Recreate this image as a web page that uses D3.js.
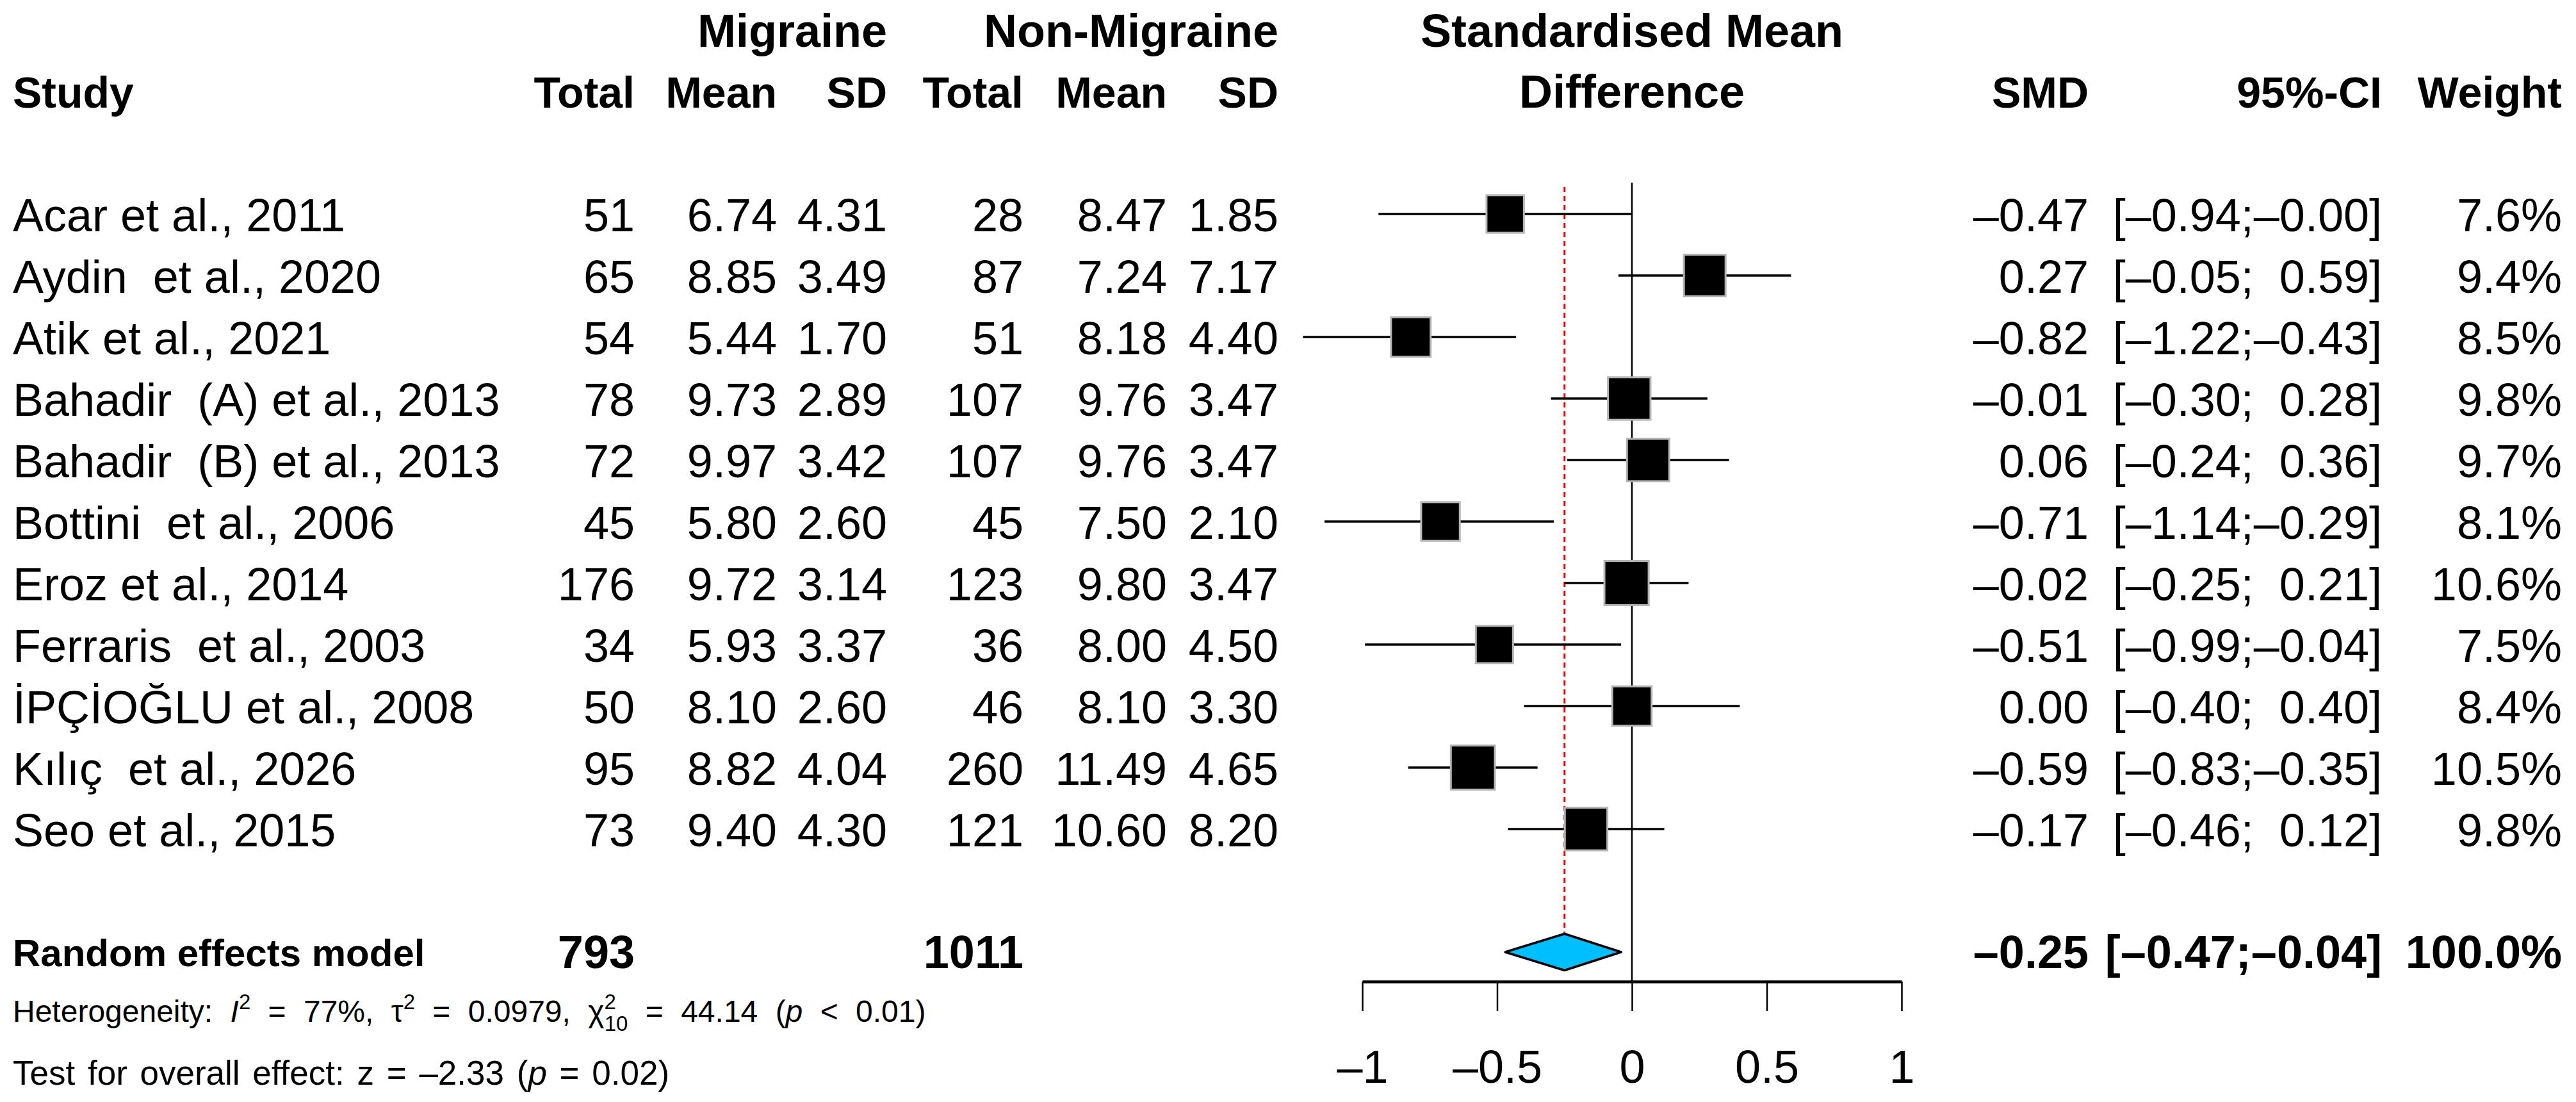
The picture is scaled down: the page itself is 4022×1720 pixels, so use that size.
<!DOCTYPE html>
<html>
<head>
<meta charset="utf-8">
<script src="https://cdn.jsdelivr.net/npm/d3@7"></script>
<style>
  body { margin: 0; background: #fff; }
  text { font-family: "Liberation Sans", Arial, sans-serif; white-space: pre; fill: #000; }
</style>
</head>
<body>
<div id="wrapper"></div>
<script>
// study rows
const studies = ["Acar et al., 2011", "Aydin  et al., 2020", "Atik et al., 2021",
  "Bahadir  (A) et al., 2013", "Bahadir  (B) et al., 2013", "Bottini  et al., 2006",
  "Eroz et al., 2014", "Ferraris  et al., 2003", "İPÇİOĞLU et al., 2008",
  "Kılıç  et al., 2026", "Seo et al., 2015"]
const migTotal = [51, 65, 54, 78, 72, 45, 176, 34, 50, 95, 73]
const migMean = [6.74, 8.85, 5.44, 9.73, 9.97, 5.80, 9.72, 5.93, 8.10, 8.82, 9.40]
const migSD = [4.31, 3.49, 1.70, 2.89, 3.42, 2.60, 3.14, 3.37, 2.60, 4.04, 4.30]
const nonTotal = [28, 87, 51, 107, 107, 45, 123, 36, 46, 260, 121]
const nonMean = [8.47, 7.24, 8.18, 9.76, 9.76, 7.50, 9.80, 8.00, 8.10, 11.49, 10.60]
const nonSD = [1.85, 7.17, 4.40, 3.47, 3.47, 2.10, 3.47, 4.50, 3.30, 4.65, 8.20]
const smd = [-0.47, 0.27, -0.82, -0.01, 0.06, -0.71, -0.02, -0.51, 0.00, -0.59, -0.17]
const ciLower = [-0.94, -0.05, -1.22, -0.30, -0.24, -1.14, -0.25, -0.99, -0.40, -0.83, -0.46]
const ciUpper = [-0.00, 0.59, -0.43, 0.28, 0.36, -0.29, 0.21, -0.04, 0.40, -0.35, 0.12]
const weights = [7.6, 9.4, 8.5, 9.8, 9.7, 8.1, 10.6, 7.5, 8.4, 10.5, 9.8]

// pooled (random effects)
const pooledTotals = [793, 1011]
const pooled = { est: -0.25, lower: -0.47, upper: -0.04, weight: 100.0 }

const tickValues = [-1, -0.5, 0, 0.5, 1]

const width = 4022, height = 1720

// en dash for minus, like the R output
const neg = v => v < 0 || Object.is(v, -0)
const f2 = v => (neg(v) ? "\u2013" : "") + Math.abs(v).toFixed(2)
const ci = (lo, hi) => "[" + (neg(lo) ? f2(lo) : "  " + f2(lo)) + ";" + (neg(hi) ? f2(hi) : "  " + f2(hi)) + "]"
const pct = v => v.toFixed(1) + "%"
const tickFmt = v => (v < 0 ? "\u2013" : "") + Math.abs(v)

const svg = d3.select("#wrapper").append("svg")
  .attr("width", width)
  .attr("height", height)

const xScale = d3.scaleLinear().domain([-1, 1]).range([2127, 2969])
const yScale = d3.scalePoint().domain(studies).range([334, 1294])
const boxSize = d3.scaleSqrt().domain([0, 10.6]).range([0, 69])
const yPooled = 1486
const axisY = 1532

// columns (right edges)
const col = { mT: 991, mM: 1213, mS: 1385, nT: 1598, nM: 1822, nS: 1996, smd: 3261, ci: 3719, w: 4000 }

// headers
const hdr = svg.append("g").attr("font-weight", "bold").attr("font-size", 68)
hdr.append("text").attr("x", col.mS).attr("y", 73).attr("font-size", 72).attr("text-anchor", "end").text("Migraine")
hdr.append("text").attr("x", col.nS).attr("y", 73).attr("font-size", 72).attr("text-anchor", "end").text("Non-Migraine")
hdr.append("text").attr("x", xScale(0)).attr("y", 73).attr("font-size", 72).attr("text-anchor", "middle").text("Standardised Mean")
hdr.append("text").attr("x", xScale(0)).attr("y", 168).attr("font-size", 72).attr("text-anchor", "middle").text("Difference")
hdr.append("text").attr("x", 20).attr("y", 168).text("Study")
const hdr2 = [["Total", col.mT], ["Mean", col.mM], ["SD", col.mS], ["Total", col.nT], ["Mean", col.nM], ["SD", col.nS],
  ["SMD", col.smd], ["95%-CI", col.ci], ["Weight", col.w]]
hdr.selectAll(".h2").data(hdr2).join("text")
  .attr("x", d => d[1]).attr("y", 168).attr("text-anchor", "end").text(d => d[0])

// study table
const rows = svg.append("g").attr("font-size", 72)
const cols = [
  [col.mT, i => migTotal[i]], [col.mM, i => migMean[i].toFixed(2)], [col.mS, i => migSD[i].toFixed(2)],
  [col.nT, i => nonTotal[i]], [col.nM, i => nonMean[i].toFixed(2)], [col.nS, i => nonSD[i].toFixed(2)],
  [col.smd, i => f2(smd[i])], [col.ci, i => ci(ciLower[i], ciUpper[i])], [col.w, i => pct(weights[i])]
]
studies.forEach((s, i) => {
  const y = yScale(s) + 27
  rows.append("text").attr("x", 20).attr("y", y).text(s)
  cols.forEach(c => {
    rows.append("text").attr("x", c[0]).attr("y", y).attr("text-anchor", "end").text(c[1](i))
  })
})

// zero line
svg.append("line")
  .attr("x1", xScale(0)).attr("x2", xScale(0))
  .attr("y1", 285).attr("y2", axisY)
  .attr("stroke", "#000").attr("stroke-width", 2.5)

// pooled estimate line
svg.append("line")
  .attr("x1", xScale(pooled.est)).attr("x2", xScale(pooled.est))
  .attr("y1", 292).attr("y2", yPooled - 29)
  .attr("stroke", "red").attr("stroke-width", 3).attr("stroke-dasharray", "8,6")

// CI whiskers + boxes
const marks = svg.append("g")
studies.forEach((s, i) => {
  const y = yScale(s)
  marks.append("line")
    .attr("x1", xScale(ciLower[i])).attr("x2", xScale(ciUpper[i]))
    .attr("y1", y).attr("y2", y)
    .attr("stroke", "#000").attr("stroke-width", 3.5)
  const b = boxSize(weights[i])
  marks.append("rect")
    .attr("x", xScale(smd[i]) - b / 2).attr("y", y - b / 2)
    .attr("width", b).attr("height", b)
    .attr("fill", "#000").attr("stroke", "#b4b4b4").attr("stroke-width", 3)
})

// diamond
const dh = 28.5
svg.append("path")
  .attr("d", `M${xScale(pooled.lower)},${yPooled}L${xScale(pooled.est)},${yPooled - dh}L${xScale(pooled.upper)},${yPooled}L${xScale(pooled.est)},${yPooled + dh}Z`)
  .attr("fill", "#00bfff").attr("stroke", "#000").attr("stroke-width", 3.5).attr("stroke-linejoin", "round")

// pooled row text
const pr = svg.append("g").attr("font-weight", "bold")
pr.append("text").attr("x", 20).attr("y", 1508).attr("font-size", 60).text("Random effects model")
pr.append("text").attr("x", col.mT).attr("y", 1511).attr("font-size", 72).attr("text-anchor", "end").text(pooledTotals[0])
pr.append("text").attr("x", col.nT).attr("y", 1511).attr("font-size", 72).attr("text-anchor", "end").text(pooledTotals[1])
pr.append("text").attr("x", col.smd).attr("y", 1511).attr("font-size", 72).attr("text-anchor", "end").text(f2(pooled.est))
pr.append("text").attr("x", col.ci).attr("y", 1511).attr("font-size", 72).attr("text-anchor", "end").text(ci(pooled.lower, pooled.upper))
pr.append("text").attr("x", col.w).attr("y", 1511).attr("font-size", 72).attr("text-anchor", "end").text(pct(pooled.weight))

// heterogeneity (plotmath style: wide gaps around operators)
const het = svg.append("text").attr("x", 20).attr("y", 1595).attr("font-size", 48).attr("word-spacing", 14)
het.append("tspan").text("Heterogeneity: ")
het.append("tspan").attr("font-style", "italic").text("I")
het.append("tspan").attr("font-size", 33).attr("dy", -20).text("2")
het.append("tspan").attr("dy", 20).text(" = 77%, \u03c4")
het.append("tspan").attr("font-size", 33).attr("dy", -20).text("2")
het.append("tspan").attr("dy", 20).text(" = 0.0979, \u03c7")
het.append("tspan").attr("font-size", 33).attr("dy", -20).text("2")
het.append("tspan").attr("font-size", 33).attr("dx", -18).attr("dy", 34).text("10")
het.append("tspan").attr("dy", -14).text(" = 44.14 (")
het.append("tspan").attr("font-style", "italic").text("p")
het.append("tspan").text(" < 0.01)")

const test = svg.append("text").attr("x", 20).attr("y", 1693).attr("font-size", 53).attr("word-spacing", 5)
test.append("tspan").text("Test for overall effect: z = \u20132.33 (")
test.append("tspan").attr("font-style", "italic").text("p")
test.append("tspan").text(" = 0.02)")

// x axis
const xAxis = d3.axisBottom(xScale)
  .tickValues(tickValues)
  .tickSize(46)
  .tickSizeOuter(0)
  .tickFormat(tickFmt)
const axisG = svg.append("g").attr("transform", `translate(0,${axisY})`).call(xAxis)
axisG.select(".domain").attr("stroke-width", 4.5)
axisG.selectAll(".tick line").attr("stroke-width", 2.5)
axisG.selectAll(".tick text")
  .attr("font-size", 72)
  .attr("font-family", "Liberation Sans, Arial, sans-serif")
  .attr("fill", "#000")
  .attr("dy", 0)
  .attr("y", 158)
</script>
</body>
</html>
